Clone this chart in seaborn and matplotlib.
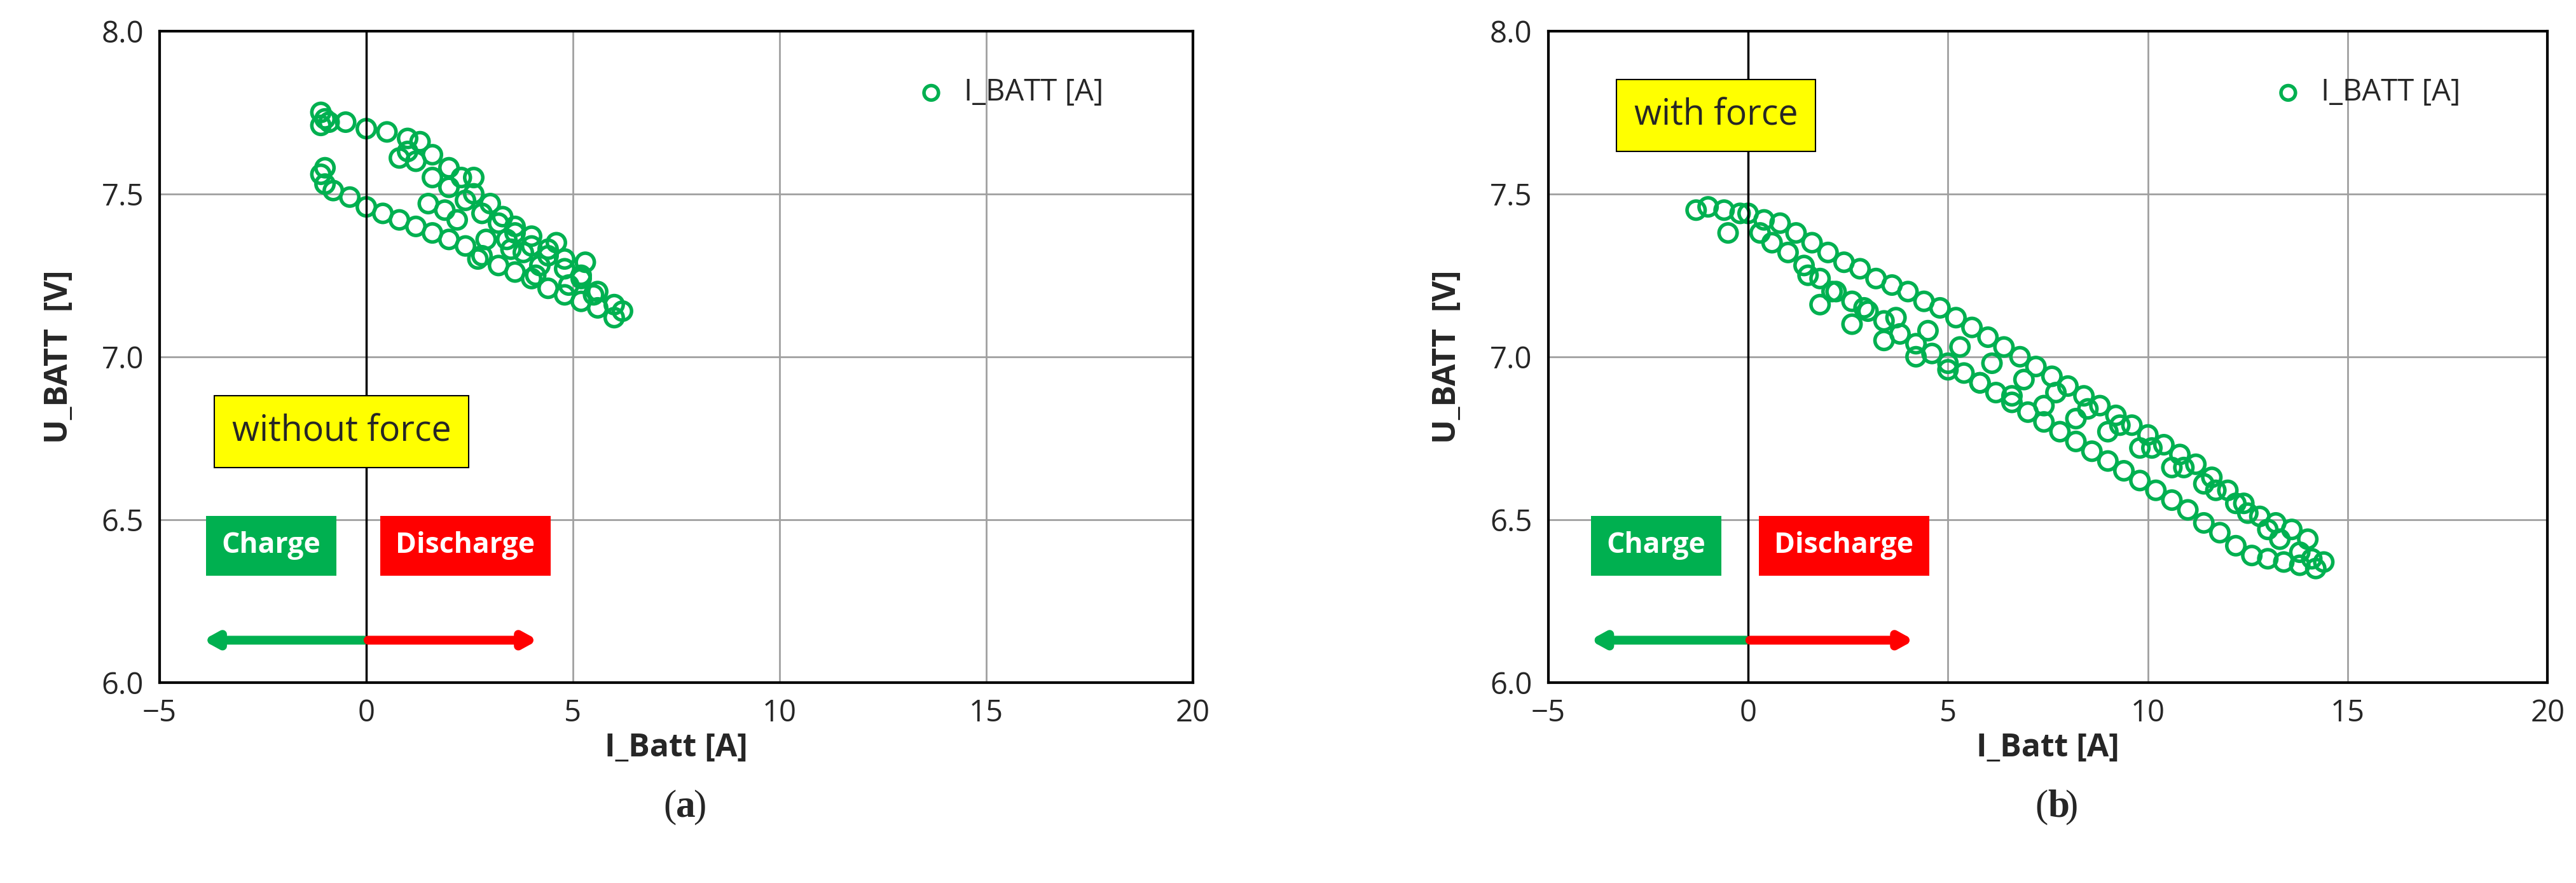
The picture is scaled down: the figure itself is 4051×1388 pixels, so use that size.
import matplotlib
matplotlib.use("Agg")
import matplotlib.pyplot as plt
import seaborn as sns
import pandas as pd

sns.set_theme(style="white")
plt.rcParams['font.family'] = ['Open Sans', 'DejaVu Sans']

# Panel (a): without force
a_i = [-1.1,-1.0,-0.9,-0.5,0.0,0.5,1.0,1.3,1.6,2.0,2.3,2.6,3.0,3.3,3.6,4.0,4.4,4.8,5.2,5.6,6.0,6.2,
       -1.1,-1.0,-0.8,-0.4,0.0,0.4,0.8,1.2,1.6,2.0,2.4,2.8,3.2,3.6,4.0,4.4,4.8,5.2,5.6,6.0,
       0.8,1.2,1.6,2.0,2.4,2.8,3.2,3.6,4.0,4.4,4.8,5.2,1.5,2.2,2.9,3.5,4.2,4.9,5.5,1.0,2.6,3.8,
       -1.0,-1.1,1.9,2.7,3.4,4.1,4.6,5.3]
a_u = [7.75,7.73,7.72,7.72,7.70,7.69,7.67,7.66,7.62,7.58,7.55,7.50,7.47,7.43,7.40,7.37,7.33,7.30,7.25,7.20,7.16,7.14,
       7.56,7.53,7.51,7.49,7.46,7.44,7.42,7.40,7.38,7.36,7.34,7.31,7.28,7.26,7.24,7.21,7.19,7.17,7.15,7.12,
       7.61,7.60,7.55,7.52,7.48,7.44,7.41,7.38,7.34,7.31,7.27,7.24,7.47,7.42,7.36,7.33,7.28,7.22,7.19,7.63,7.55,7.32,
       7.58,7.71,7.45,7.30,7.36,7.25,7.35,7.29]
# Panel (b): with force
b_i = [-1.3,-1.0,-0.6,-0.2,0.0,0.4,0.8,1.2,1.6,2.0,2.4,2.8,3.2,3.6,4.0,4.4,4.8,5.2,5.6,6.0,6.4,6.8,7.2,7.6,8.0,8.4,8.8,9.2,9.6,10.0,10.4,10.8,11.2,11.6,12.0,12.4,12.8,13.2,13.6,14.0,14.4,
       0.6,1.0,1.4,1.8,2.2,2.6,3.0,3.4,3.8,4.2,4.6,5.0,5.4,5.8,6.2,6.6,7.0,7.4,7.8,8.2,8.6,9.0,9.4,9.8,10.2,10.6,11.0,11.4,11.8,12.2,12.6,13.0,13.4,13.8,14.2,
       1.8,2.6,3.4,4.2,5.0,5.8,6.6,7.4,8.2,9.0,9.8,10.6,11.4,12.2,13.0,13.8,
       1.5,2.1,2.9,3.7,4.5,5.3,6.1,6.9,7.7,8.5,9.3,10.1,10.9,11.7,12.5,13.3,14.1,-0.5,0.3]
b_u = [7.45,7.46,7.45,7.44,7.44,7.42,7.41,7.38,7.35,7.32,7.29,7.27,7.24,7.22,7.20,7.17,7.15,7.12,7.09,7.06,7.03,7.00,6.97,6.94,6.91,6.88,6.85,6.82,6.79,6.76,6.73,6.70,6.67,6.63,6.59,6.55,6.51,6.49,6.47,6.44,6.37,
       7.35,7.32,7.28,7.24,7.20,7.17,7.14,7.11,7.07,7.04,7.01,6.98,6.95,6.92,6.89,6.86,6.83,6.80,6.77,6.74,6.71,6.68,6.65,6.62,6.59,6.56,6.53,6.49,6.46,6.42,6.39,6.38,6.37,6.36,6.35,
       7.16,7.10,7.05,7.00,6.96,6.92,6.88,6.85,6.81,6.77,6.72,6.66,6.61,6.55,6.47,6.40,
       7.25,7.20,7.15,7.12,7.08,7.03,6.98,6.93,6.89,6.84,6.79,6.72,6.66,6.59,6.52,6.44,6.38,7.38,7.38]

x_ticks = [-5, 0, 5, 10, 15, 20]
y_ticks = [6.0, 6.5, 7.0, 7.5, 8.0]
green = '#00B050'

fig = plt.figure(figsize=(40.51, 13.88), dpi=100)
axa = fig.add_axes([0.062, 0.227, 0.401, 0.738])
axb = fig.add_axes([0.601, 0.227, 0.388, 0.738])

def panel(ax, xs, ys, label, boxpos, cap):
    df = pd.DataFrame({'I': xs, 'U': ys})
    sns.scatterplot(data=df, x='I', y='U', ax=ax, marker='o', s=420,
                    facecolors='none', edgecolor=green, linewidth=4, label='I_BATT [A]')
    ax.set_xlim(-5, 20); ax.set_ylim(6.0, 8.0)
    ax.set_xticks(x_ticks); ax.set_yticks(y_ticks)
    ax.set_yticklabels([f'{v:.1f}' for v in y_ticks])
    ax.grid(True, color='#A0A0A0', linewidth=2)
    ax.axvline(0, color='black', linewidth=2.5)
    for s in ax.spines.values():
        s.set_color('black'); s.set_linewidth(3)
    ax.tick_params(labelsize=34, length=0, pad=18)
    ax.set_xlabel('I_Batt [A]', fontsize=36, fontweight='bold', labelpad=4)
    ax.set_ylabel('U_BATT  [V]', fontsize=36, fontweight='bold', labelpad=30)
    ax.legend(loc='upper right', bbox_to_anchor=(0.94, 0.97), frameon=False, fontsize=34,
              handletextpad=0.1, markerscale=0.8)
    ax.text(boxpos[0], boxpos[1], label, fontsize=40, ha='center', va='center',
            bbox=dict(boxstyle='square,pad=0.5', fc='#FFFF00', ec='black', lw=1.5))
    ax.text(-2.3, 6.42, 'Charge', fontsize=32, fontweight='bold', color='white', ha='center', va='center',
            bbox=dict(boxstyle='square,pad=0.55', fc=green, ec='none'))
    ax.text(2.4, 6.42, 'Discharge', fontsize=32, fontweight='bold', color='white', ha='center', va='center',
            bbox=dict(boxstyle='square,pad=0.55', fc='#FF0000', ec='none'))
    ax.annotate('', xy=(-4.0, 6.13), xytext=(0, 6.13),
                arrowprops=dict(arrowstyle='-|>,head_length=1.0,head_width=0.55', color=green, lw=10))
    ax.annotate('', xy=(4.2, 6.13), xytext=(0, 6.13),
                arrowprops=dict(arrowstyle='-|>,head_length=1.0,head_width=0.55', color='#FF0000', lw=10))
    pos = ax.get_position()
    fig.text(pos.x0 + pos.width/2, 0.075, '(', fontsize=44, family='Liberation Serif', ha='right')
    fig.text(pos.x0 + pos.width/2, 0.075, cap, fontsize=44, family='Liberation Serif', fontweight='bold', ha='left')
    fig.text(pos.x0 + pos.width/2 + 0.0065, 0.075, ')', fontsize=44, family='Liberation Serif', ha='left')

panel(axa, a_i, a_u, 'without force', (-0.6, 6.77), 'a')
panel(axb, b_i, b_u, 'with force', (-0.8, 7.74), 'b')

fig.savefig('out.png', dpi=100)
